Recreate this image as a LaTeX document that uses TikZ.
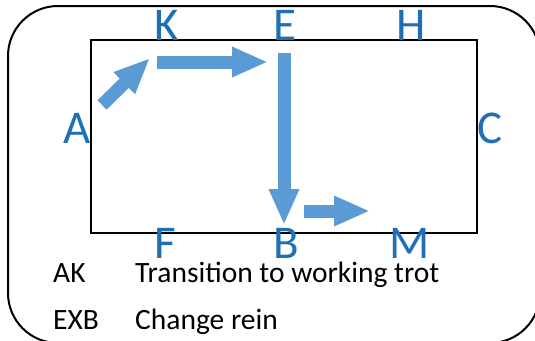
\documentclass[tikz,border=0pt]{standalone}
\usepackage{fontspec}
\setmainfont{Carlito}
\usetikzlibrary{arrows.meta}
\definecolor{letterblue}{RGB}{31,111,181}
\definecolor{arrowblue}{RGB}{91,155,213}

\begin{document}
\begin{tikzpicture}[x=1pt,y=-1pt,
    letter/.style={text=letterblue,font=\fontsize{47pt}{47pt}\selectfont,inner sep=0pt,anchor=base},
    legend/.style={font=\fontsize{29.5pt}{29.5pt}\selectfont,inner sep=0pt,anchor=base west},
    flow/.style={draw=arrowblue,line width=13pt,-{Triangle[length=36pt,width=28pt]}}]
  \useasboundingbox (0,0) rectangle (535,340);
  \clip (0,0) rectangle (535,340);
  % outer frame and arena
  \draw [line width=2pt,rounded corners=50pt] (8,6) rectangle (540,343);
  \draw [line width=2pt] (91,40) rectangle (477,233);
  % letters
  \node[letter] (lK) at (167,40) {K};
  \node[letter] (lE) at (285,40) {E};
  \node[letter] (lH) at (411,40) {H};
  \node[letter] (lA) at (77,143) {A};
  \node[letter] (lC) at (490,143) {C};
  \node[letter] (lF) at (165,258) {F};
  \node[letter] (lB) at (286,258) {B};
  \node[letter] (lM) at (410,258) {M};
  % arrows
  \coordinate (a1) at (102,105);
  \coordinate (a2) at (150,58);
  \coordinate (b1) at (157,62);
  \coordinate (b2) at (268,62);
  \coordinate (c1) at (284,53);
  \coordinate (c2) at (284,225);
  \coordinate (d1) at (304,211);
  \coordinate (d2) at (370,211);
  \draw[flow] (a1) -- (a2);
  \draw[flow] (b1) -- (b2);
  \draw[flow] (c1) -- (c2);
  \draw[flow] (d1) -- (d2);
  % legend
  \node[legend] (ak) at (53,282) {AK};
  \node[legend] (akt) at (135,282) {Transition to working trot};
  \node[legend] (exb) at (53,329) {EXB};
  \node[legend] (exbt) at (135,329) {Change rein};
\end{tikzpicture}
\end{document}
